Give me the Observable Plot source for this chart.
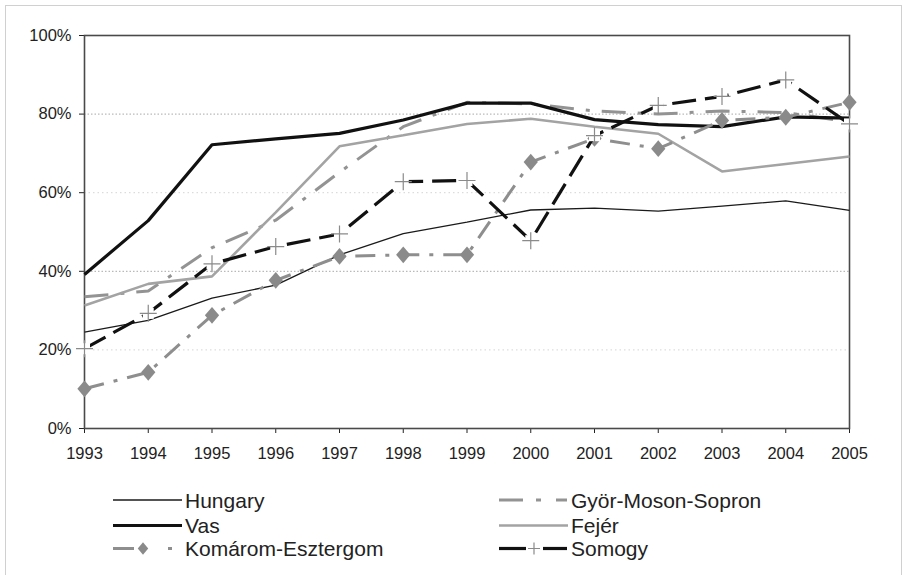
<!DOCTYPE html>
<html>
<head>
<meta charset="utf-8">
<script src="https://cdn.jsdelivr.net/npm/d3@7"></script>
<script src="https://cdn.jsdelivr.net/npm/@observablehq/plot@0.6"></script>
<style>
  html, body { margin:0; padding:0; background:#fff; }
  #wrap { position:relative; width:905px; height:575px; overflow:hidden; background:#fff; }
  #border { position:absolute; left:5px; top:5px; width:897px; height:600px; border:1.5px solid #d0d0d0; box-sizing:border-box; }
  #chart { position:absolute; left:0; top:0; }
  #chart svg text { font-family:"Liberation Sans", Arial, sans-serif; font-size:16.5px; fill:#222; }
  #legend { position:absolute; left:0; top:470px; }
  #legend text { font-family:"Liberation Sans", Arial, sans-serif; font-size:21px; fill:#222; }
</style>
</head>
<body>
<div id="wrap">
  <div id="border"></div>
  <div id="chart"></div>
  <div id="legend"></div>
</div>
<script>
// ---- data (share, %) ----
const years = [1993,1994,1995,1996,1997,1998,1999,2000,2001,2002,2003,2004,2005];
const yTicks = [0,20,40,60,80,100];
const seriesNames = ["Hungary","Györ-Moson-Sopron","Vas","Fejér","Komárom-Esztergom","Somogy"];
const hungary = [24.5,27.5,33.2,36.5,44.2,49.6,52.5,55.6,56.1,55.3,56.6,57.9,55.5];
const gyor    = [33.5,35.0,46.0,53.0,65.2,76.8,83.0,82.6,80.8,80.0,80.8,80.4,78.0];
const vas     = [39.2,52.9,72.2,73.7,75.1,78.5,82.8,82.8,78.6,77.3,76.8,79.3,79.0];
const fejer   = [31.3,36.8,38.7,55.0,71.8,74.6,77.5,78.8,76.8,75.0,65.4,67.3,69.2];
const komarom = [10.1,14.3,28.8,37.7,43.8,44.2,44.2,67.8,73.8,71.2,78.4,79.2,83.0];
const somogy  = [20.3,29.3,41.9,46.3,49.5,62.8,63.1,47.8,74.5,82.2,84.5,88.7,77.5];

const valuesByName = {
  "Hungary": hungary, "Györ-Moson-Sopron": gyor, "Vas": vas,
  "Fejér": fejer, "Komárom-Esztergom": komarom, "Somogy": somogy
};

// ---- styles ----
const styles = {
  "Hungary":           {stroke:"#1a1a1a", width:1.3, dash:null},
  "Györ-Moson-Sopron": {stroke:"#939393", width:3,   dash:"24,12,4,12"},
  "Vas":               {stroke:"#111",    width:3.2, dash:null},
  "Fejér":             {stroke:"#a3a3a3", width:2.6, dash:null},
  "Komárom-Esztergom": {stroke:"#8e8e8e", width:3,   dash:"20,10,4,10"},
  "Somogy":            {stroke:"#111",    width:3.2, dash:"24,9"}
};

const table = [];
seriesNames.forEach(name => valuesByName[name].forEach((v, i) => table.push({series:name, year:years[i], value:v})));

// custom symbols
const plusSymbol = { draw(ctx, size) { const r = Math.sqrt(size/Math.PI); ctx.moveTo(-r,0); ctx.lineTo(r,0); ctx.moveTo(0,-r); ctx.lineTo(0,r); } };
const squareSymbol = { draw(ctx, size) { const r = Math.sqrt(size/Math.PI); ctx.rect(-r,-r,2*r,2*r); } };
const diamondSymbol = { draw(ctx, size) { const r = Math.sqrt(size/Math.PI); const w = r*0.95, h = r*1.12; ctx.moveTo(0,-h); ctx.lineTo(w,0); ctx.lineTo(0,h); ctx.lineTo(-w,0); ctx.closePath(); } };

const lineMarks = seriesNames.map(name => {
  const s = styles[name];
  const opts = {x:"year", y:"value", stroke:s.stroke, strokeWidth:s.width, strokeLinejoin:"miter", strokeLinecap:"butt"};
  if (s.dash) opts.strokeDasharray = s.dash;
  return Plot.line(table.filter(d => d.series === name), opts);
});
const somogyRows = table.filter(d => d.series === "Somogy");

const chart = Plot.plot({
  width:905, height:470,
  marginLeft:84, marginRight:56, marginTop:35, marginBottom:42,
  style:{background:"transparent", fontFamily:"Liberation Sans, Arial, sans-serif", fontSize:"16.5px", color:"#222"},
  x:{domain:[1993,2005], ticks:years, tickFormat:"d", tickSize:5, tickPadding:14, label:null},
  y:{domain:[0,100], ticks:yTicks, tickFormat:d => d + "%", tickSize:5, tickPadding:8, label:null},
  marks:[
    Plot.ruleY([20,60], {stroke:"#d4d4d4", strokeWidth:1, strokeDasharray:"1.5,3"}),
    Plot.ruleY([40,80], {stroke:"#a8a8a8", strokeWidth:1, strokeDasharray:"1.5,2"}),
    Plot.frame({stroke:"#4a4a4a", strokeWidth:1.6}),
    lineMarks[0], lineMarks[1], lineMarks[2], lineMarks[3], lineMarks[4],
    Plot.dot(table.filter(d => d.series === "Komárom-Esztergom"), {x:"year", y:"value", symbol:diamondSymbol, r:7.5, fill:"#8a8a8a", stroke:"none"}),
    lineMarks[5],
    Plot.dot(somogyRows, {x:"year", y:"value", symbol:squareSymbol, r:5.5, fill:"#fff", stroke:"none"}),
    Plot.dot(somogyRows, {x:"year", y:"value", symbol:plusSymbol, r:8.5, fill:"none", stroke:"#8a8a8a", strokeWidth:1.2})
  ]
});
document.getElementById("chart").appendChild(chart);

// ---- legend ----
const legendItems = [
  {name:"Hungary", x:113, row:0},
  {name:"Vas", x:113, row:1},
  {name:"Komárom-Esztergom", x:113, row:2},
  {name:"Györ-Moson-Sopron", x:499, row:0},
  {name:"Fejér", x:499, row:1},
  {name:"Somogy", x:499, row:2}
];
const rowY = [30, 55.5, 78.5];
const lsvg = d3.select("#legend").append("svg").attr("width", 905).attr("height", 105);
legendItems.forEach(it => {
  const s = styles[it.name];
  const y = rowY[it.row];
  const g = lsvg.append("g").attr("transform", `translate(${it.x},${y})`);
  const W = 70;
  if (it.name === "Komárom-Esztergom") {
    g.append("line").attr("x1",0).attr("x2",21).attr("stroke",s.stroke).attr("stroke-width",s.width);
    g.append("line").attr("x1",55).attr("x2",59).attr("stroke",s.stroke).attr("stroke-width",s.width);
    g.append("path").attr("d", d3.symbol(diamondSymbol, Math.PI*5.5*5.5)()).attr("transform","translate(30,0)").attr("fill","#8a8a8a");
  } else if (it.name === "Györ-Moson-Sopron") {
    g.append("line").attr("x1",0).attr("x2",24).attr("stroke",s.stroke).attr("stroke-width",s.width);
    g.append("line").attr("x1",37).attr("x2",42).attr("stroke",s.stroke).attr("stroke-width",s.width);
    g.append("line").attr("x1",57).attr("x2",W-2).attr("stroke",s.stroke).attr("stroke-width",s.width);
  } else if (it.name === "Somogy") {
    g.append("line").attr("x1",0).attr("x2",27).attr("stroke",s.stroke).attr("stroke-width",s.width);
    g.append("line").attr("x1",44).attr("x2",W-2).attr("stroke",s.stroke).attr("stroke-width",s.width);
    g.append("path").attr("d", d3.symbol(plusSymbol, Math.PI*6*6)()).attr("transform","translate(35,0)").attr("fill","none").attr("stroke","#8a8a8a").attr("stroke-width",1.2);
  } else {
    g.append("line").attr("x1",0).attr("x2",W-1).attr("stroke",s.stroke).attr("stroke-width",s.width);
  }
  g.append("text").attr("x", W + 2).attr("y", 7.5).text(it.name);
});
</script>
</body>
</html>
